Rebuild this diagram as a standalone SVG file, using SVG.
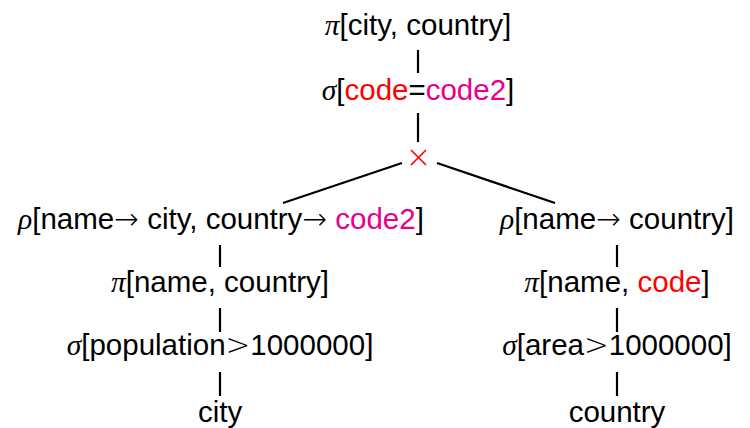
<svg xmlns="http://www.w3.org/2000/svg" width="750" height="428" viewBox="0 0 750 428">
<style>
.t{font-family:"Liberation Sans",Arial,sans-serif;font-size:29.5px;fill:#000;text-anchor:middle}
.g{font-family:"Liberation Serif","DejaVu Serif",serif;font-style:italic}
.m{font-family:"DejaVu Sans",sans-serif;font-weight:200}
.r{fill:#ff0000}
.p{fill:#e8008a}
.e{stroke:#000;stroke-width:2.2;fill:none}
</style>
<rect width="750" height="428" fill="#fff"/>
<g id="connectors">
<line class="e" x1="418" y1="50" x2="418" y2="73"/>
<line class="e" x1="418" y1="113" x2="418" y2="142"/>
<line class="e" x1="283" y1="203" x2="402" y2="163"/>
<line class="e" x1="437" y1="163" x2="555" y2="203"/>
<line class="e" x1="220" y1="245" x2="220" y2="267"/>
<line class="e" x1="220" y1="308" x2="220" y2="332"/>
<line class="e" x1="220" y1="372" x2="220" y2="396"/>
<line class="e" x1="617" y1="245" x2="617" y2="267"/>
<line class="e" x1="617" y1="308" x2="617" y2="332"/>
<line class="e" x1="617" y1="372" x2="617" y2="396"/>
</g>
<g id="proj-top"><text class="t" x="418" y="35"><tspan class="g">π</tspan>[city, country]</text></g>
<g id="sel-top"><text class="t" x="418" y="100"><tspan class="g">σ</tspan>[<tspan class="r">code</tspan>=<tspan class="p">code2</tspan>]</text></g>
<g id="cross"><path d="M411 150 L426 165 M426 150 L411 165" stroke="#ff0000" stroke-width="1.6" fill="none"/></g>
<g id="rho-left"><text class="t" x="221" y="229"><tspan class="g">ρ</tspan>[name<tspan class="m">→</tspan> city, country<tspan class="m">→</tspan> <tspan class="p">code2</tspan>]</text></g>
<g id="proj-left"><text class="t" x="220" y="292"><tspan class="g">π</tspan>[name, country]</text></g>
<g id="sel-left"><text class="t" x="220" y="355"><tspan class="g">σ</tspan>[population<tspan class="m">&gt;</tspan>1000000]</text></g>
<g id="city"><text class="t" x="220" y="422">city</text></g>
<g id="rho-right"><text class="t" x="617" y="229"><tspan class="g">ρ</tspan>[name<tspan class="m">→</tspan> country]</text></g>
<g id="proj-right"><text class="t" x="617" y="292"><tspan class="g">π</tspan>[name, <tspan class="r">code</tspan>]</text></g>
<g id="sel-right"><text class="t" x="617" y="355"><tspan class="g">σ</tspan>[area<tspan class="m">&gt;</tspan>1000000]</text></g>
<g id="country"><text class="t" x="617" y="422">country</text></g>
</svg>
